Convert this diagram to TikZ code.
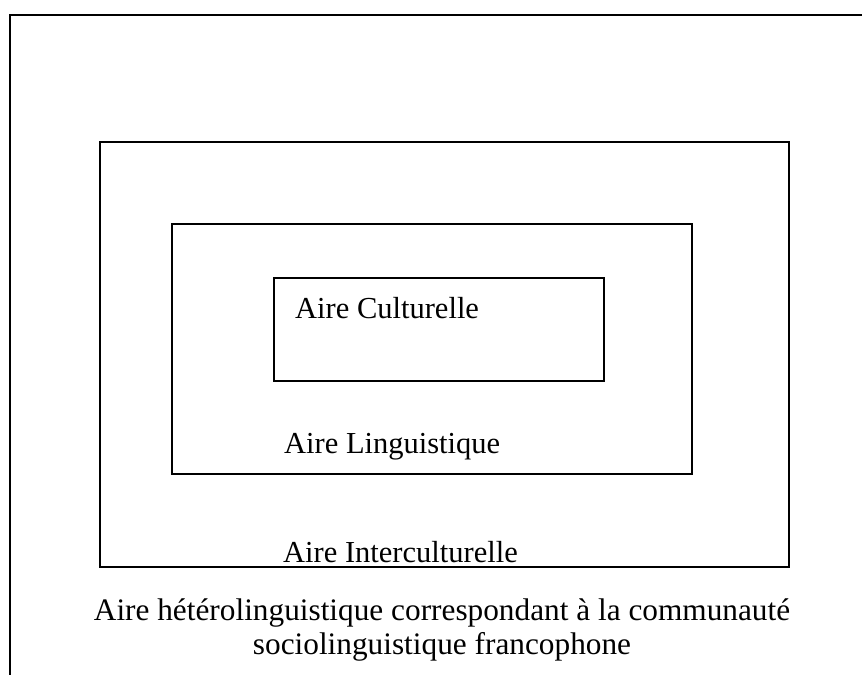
\documentclass[tikz,border=0pt]{standalone}
\usepackage{fontspec}
\setmainfont{Liberation Serif}
\begin{document}
\begin{tikzpicture}[x=1pt,y=-1pt,
  area/.style={draw=black,line width=2pt,rectangle,inner sep=0pt,outer sep=0pt},
  lbl/.style={anchor=base west,inner sep=0pt,font=\fontsize{30.5}{36}\selectfont},
  captxt/.style={anchor=base,inner sep=0pt,font=\fontsize{31.3}{37}\selectfont}]
\useasboundingbox (0,0) rectangle (862,675);
% open frame
\coordinate (ftr) at (862,15);
\coordinate (ftl) at (10,15);
\coordinate (fbl) at (10,675);
\draw[line width=2.6pt] (ftr) -- (ftl) -- (fbl);
% nested areas
\node[area,minimum width=689pt,minimum height=425pt] (inter) at (444.5,354.5) {};
\node[area,minimum width=520pt,minimum height=250pt] (ling) at (432,349) {};
\node[area,minimum width=330pt,minimum height=103pt] (cult) at (439,329.5) {};
% labels
\node[lbl] (tcult) at (295,318) {Aire Culturelle};
\node[lbl] (tling) at (284,453) {Aire Linguistique};
\node[lbl] (tinter) at (283,562) {Aire Interculturelle};
\node[captxt] (tbot1) at (442,620) {Aire hétérolinguistique correspondant à la communauté};
\node[captxt] (tbot2) at (442,654) {sociolinguistique francophone};
\end{tikzpicture}
\end{document}
